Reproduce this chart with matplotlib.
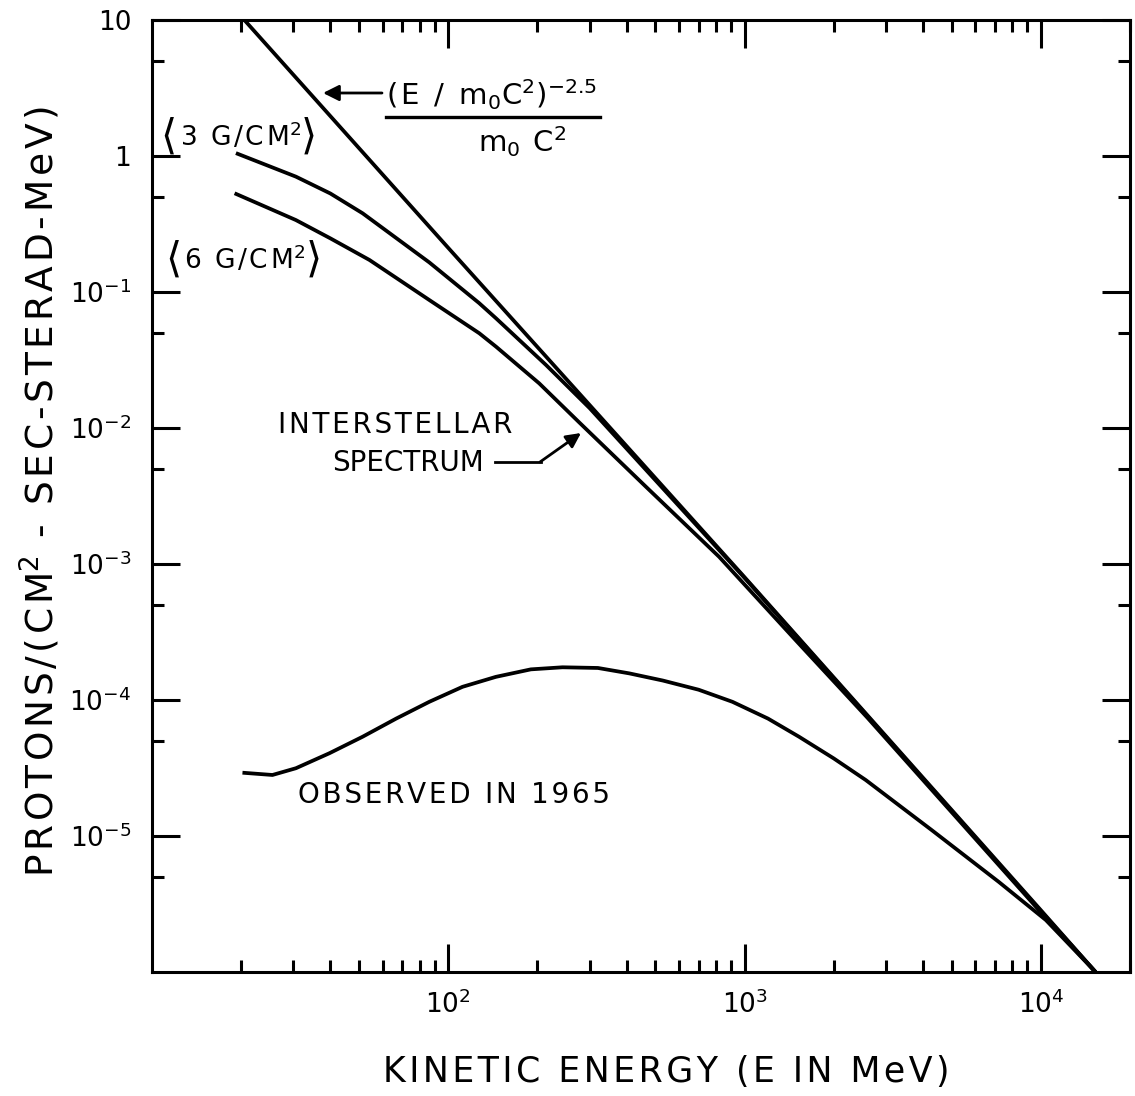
import matplotlib
matplotlib.use('Agg')
import matplotlib.pyplot as plt
from matplotlib.ticker import LogLocator, NullFormatter
from matplotlib.lines import Line2D

######################### Data ################################################
# kinetic energy (MeV) and flux, protons/(cm2-sec-sterad-MeV)

E_POWER = [20.5, 100, 1000, 10000, 15300]
F_POWER = [10.0, 0.211, 8.0e-4, 2.85e-6, 1.0e-6]

E_3G = [19.2, 30.6, 40, 51.4, 86.3, 127, 145, 214, 300, 1000, 10000, 15300]
F_3G = [1.05, 0.705, 0.53, 0.379, 0.165, 0.083, 0.064, 0.029, 0.0140, 7.9e-4, 2.8e-6, 1.0e-6]

E_6G = [19.0, 30.6, 40, 54.2, 86.3, 127.3, 145, 202.7, 276.6, 464.6, 820.5, 1500, 2600, 10000, 15300]
F_6G = [0.532, 0.338, 0.248, 0.172, 0.0873, 0.0497, 0.0396, 0.0213, 0.0110, 0.0037, 0.00113, 2.7e-4,
        7.4e-5, 2.75e-6, 1.0e-6]

E_OBS = [20.2, 25.5, 30.6, 39.7, 51.4, 66.7, 86.3, 111.7, 144.8, 190, 243, 320, 408, 530, 700, 910,
         1200, 1527, 2000, 2565, 4295, 7210, 10400, 15300]
F_OBS = [2.92e-5, 2.81e-5, 3.15e-5, 4.06e-5, 5.37e-5, 7.3e-5, 9.7e-5, 1.25e-4, 1.48e-4, 1.68e-4, 1.74e-4,
         1.72e-4, 1.57e-4, 1.39e-4, 1.19e-4, 9.7e-5, 7.3e-5, 5.37e-5, 3.72e-5, 2.58e-5, 1.1e-5, 4.6e-6,
         2.41e-6, 1.0e-6]

Y_TICKS = [1e-5, 1e-4, 1e-3, 1e-2, 1e-1, 1, 10]
Y_TICKLABELS = [r'$10^{-5}$', r'$10^{-4}$', r'$10^{-3}$', r'$10^{-2}$', r'$10^{-1}$', '1', '10']
X_TICKS = [100, 1000, 10000]
X_TICKLABELS = [r'$10^2$', r'$10^3$', r'$10^4$']

plt.rcParams['font.family'] = ['DejaVu Sans']
plt.rcParams['mathtext.fontset'] = 'dejavusans'
plt.rcParams['mathtext.default'] = 'regular'

W, H = 1135, 1096
HS = '\u200a'  # hair space, to spread the lettering like the original


def spaced(s):
    return HS.join(s)


def fx(px):
    return px / W


def fy(py):
    return 1 - py / H


########################## Plotting ###########################################
fig = plt.figure(figsize=(W / 100, H / 100), dpi=100)
ax = fig.add_axes([fx(152), fy(972), (1130 - 152) / W, (972 - 20) / H])
ax.set_xscale('log')
ax.set_yscale('log')
ax.set_xlim(10, 2.0e4)
ax.set_ylim(1e-6, 10)

lw = 2.7
ax.plot(E_POWER, F_POWER, color='black', lw=lw, solid_capstyle='butt')
ax.plot(E_3G, F_3G, color='black', lw=lw, solid_capstyle='butt')
ax.plot(E_6G, F_6G, color='black', lw=lw, solid_capstyle='butt')
ax.plot(E_OBS, F_OBS, color='black', lw=lw, solid_capstyle='butt')

ax.set_xticks(X_TICKS, X_TICKLABELS)
ax.set_yticks(Y_TICKS, Y_TICKLABELS)
ax.xaxis.set_minor_locator(LogLocator(base=10, subs=range(2, 10), numticks=100))
ax.xaxis.set_minor_formatter(NullFormatter())
ax.yaxis.set_minor_locator(LogLocator(base=10, subs=[5], numticks=100))
ax.yaxis.set_minor_formatter(NullFormatter())
ax.tick_params(which='both', direction='in', top=True, right=True, width=2.2, color='black')
ax.tick_params(which='major', length=20, labelsize=19)
ax.tick_params(axis='y', which='major', pad=15)
ax.tick_params(axis='x', which='major', pad=13)
ax.tick_params(which='minor', length=8.5)
for sp in ax.spines.values():
    sp.set_linewidth(2.2)

# axis labels (placed in figure pixels, as in the original lettering)
fig.text(fx(666), fy(1072), spaced('KINETIC ENERGY (E IN MeV)'), fontsize=25,
         ha='center', va='center')
fig.text(fx(40), fy(492), spaced('PROTONS/(CM') + '$^2$' + spaced(' - SEC-STERAD-MeV)'),
         fontsize=27, rotation=90, ha='center', va='center')

# formula label with arrow to the power law
fig.text(fx(386), fy(95), spaced('(E / m') + '$_0$' + spaced('C') + '$^2$' + ')$^{-2.5}$',
         fontsize=21, ha='left', va='center')
fig.add_artist(Line2D([fx(386), fx(600)], [fy(117), fy(117)], color='black', lw=2.4))
fig.text(fx(522), fy(142), 'm$_0$' + spaced(' C') + '$^2$', fontsize=21, ha='center', va='center')
ax.annotate('', xy=(fx(323), fy(93)), xytext=(fx(382), fy(93)), xycoords='figure fraction',
            arrowprops=dict(arrowstyle='-|>', color='black', lw=2, mutation_scale=24,
                            shrinkA=0, shrinkB=0))

# depth labels, with tall angle brackets
for y_px, txt, x0, x1, x2 in [(137, '3 G/CM', 160, 180, 300), (260, '6 G/CM', 165, 184, 305)]:
    fig.text(fx(x0), fy(y_px), r'$\langle$', fontsize=30, ha='left', va='center')
    fig.text(fx(x1), fy(y_px), spaced(txt) + '$^2$', fontsize=19, ha='left', va='center')
    fig.text(fx(x2), fy(y_px), r'$\rangle$', fontsize=30, ha='left', va='center')

# interstellar spectrum label
fig.text(fx(278), fy(425), spaced('INTERSTELLAR'), fontsize=20, ha='left', va='center')
fig.text(fx(332), fy(463), 'SPECTRUM', fontsize=20, ha='left', va='center')
fig.add_artist(Line2D([fx(495), fx(541)], [fy(462), fy(462)], color='black', lw=2))
ax.annotate('', xy=(fx(581), fy(433)), xytext=(fx(540), fy(462)), xycoords='figure fraction',
            arrowprops=dict(arrowstyle='-|>', color='black', lw=2, mutation_scale=22,
                            shrinkA=0, shrinkB=0))

fig.text(fx(298), fy(795), spaced('OBSERVED IN 1965'), fontsize=20, ha='left', va='center')

fig.savefig('out.png', dpi=100)
